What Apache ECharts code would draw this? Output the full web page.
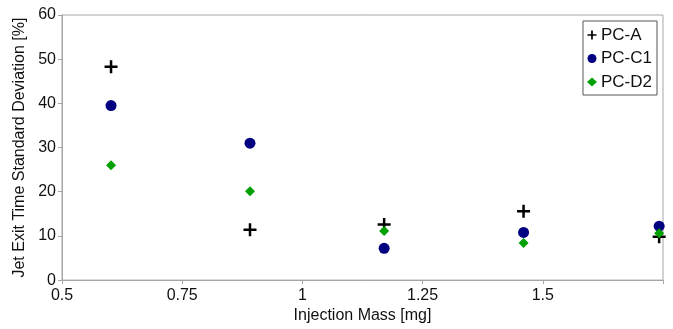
<!DOCTYPE html>
<html>
<head>
<meta charset="utf-8">
<script src="https://cdn.jsdelivr.net/npm/echarts@6/dist/echarts.min.js"></script>
<style>html,body{margin:0;padding:0;background:#fff}#c{width:673px;height:329px}</style>
</head>
<body>
<div id="c"></div>
<script>
const seriesNames = ['PC-A', 'PC-C1', 'PC-D2'];
const massA = [0.602, 0.891, 1.170, 1.460, 1.742];
const valuesA = [48.3, 11.4, 12.6, 15.6, 9.8];
const massC1 = [0.602, 0.891, 1.170, 1.460, 1.742];
const valuesC1 = [39.5, 31.0, 7.2, 10.8, 12.2];
const massD2 = [0.602, 0.891, 1.170, 1.460, 1.742];
const valuesD2 = [26.0, 20.1, 11.1, 8.4, 10.6];
const xTicks = [0.5, 0.75, 1, 1.25, 1.5];
const yTicks = [0, 10, 20, 30, 40, 50, 60];

const pair = (xs, ys) => xs.map((x, i) => [x, ys[i]]);
const plusPath = 'path://M0,5.25H5.25V0H7.75V5.25H13V7.75H7.75V13H5.25V7.75H0Z';
const font = 'Liberation Sans, Arial, sans-serif';
const gray = '#a6a6a6';

const chart = echarts.init(document.getElementById('c'), null, {renderer: 'canvas'});
chart.setOption({
  animation: false,
  grid: {left: 62, right: 10, top: 15, bottom: 48, show: true, borderColor: gray, borderWidth: 1},
  xAxis: {
    type: 'value', min: 0.5, max: 1.75, interval: 0.25,
    name: 'Injection Mass [mg]', nameLocation: 'middle', nameGap: 27,
    nameTextStyle: {fontFamily: font, fontSize: 16, color: '#111'},
    axisLine: {lineStyle: {color: gray}},
    axisTick: {show: true, length: 4, lineStyle: {color: gray}},
    splitLine: {show: false},
    axisLabel: {fontFamily: font, fontSize: 16, color: '#111', margin: 7,
      formatter: v => xTicks.includes(+v.toFixed(2)) ? String(+v.toFixed(2)) : ''}
  },
  yAxis: {
    type: 'value', min: 0, max: 60, interval: 10,
    name: 'Jet Exit Time Standard Deviation [%]', nameLocation: 'middle', nameGap: 23,
    nameTextStyle: {fontFamily: font, fontSize: 16, color: '#111'},
    axisLine: {show: true, lineStyle: {color: gray}},
    axisTick: {show: true, length: 4, lineStyle: {color: gray}},
    splitLine: {show: false},
    axisLabel: {fontFamily: font, fontSize: 16, color: '#111', margin: 6,
      formatter: v => yTicks.includes(v) ? String(v) : ''}
  },
  legend: {
    orient: 'vertical', right: 16, top: 21,
    data: seriesNames,
    borderColor: '#555', borderWidth: 1, padding: [4, 5, 3, 4],
    itemWidth: 10, itemHeight: 9, itemGap: 3.5,
    textStyle: {fontFamily: font, fontSize: 17, color: '#111', lineHeight: 20, padding: [0, 0, 0, -1]}
  },
  series: [
    {name: seriesNames[0], type: 'scatter', data: pair(massA, valuesA), symbol: plusPath, symbolSize: 13,
     itemStyle: {color: '#000', opacity: 1}, z: 3},
    {name: seriesNames[1], type: 'scatter', data: pair(massC1, valuesC1), symbol: 'circle', symbolSize: 11,
     itemStyle: {color: '#000080', opacity: 1}, z: 2},
    {name: seriesNames[2], type: 'scatter', data: pair(massD2, valuesD2), symbol: 'diamond', symbolSize: 10,
     itemStyle: {color: '#00a000', opacity: 1}, z: 4}
  ]
});
</script>
</body>
</html>
